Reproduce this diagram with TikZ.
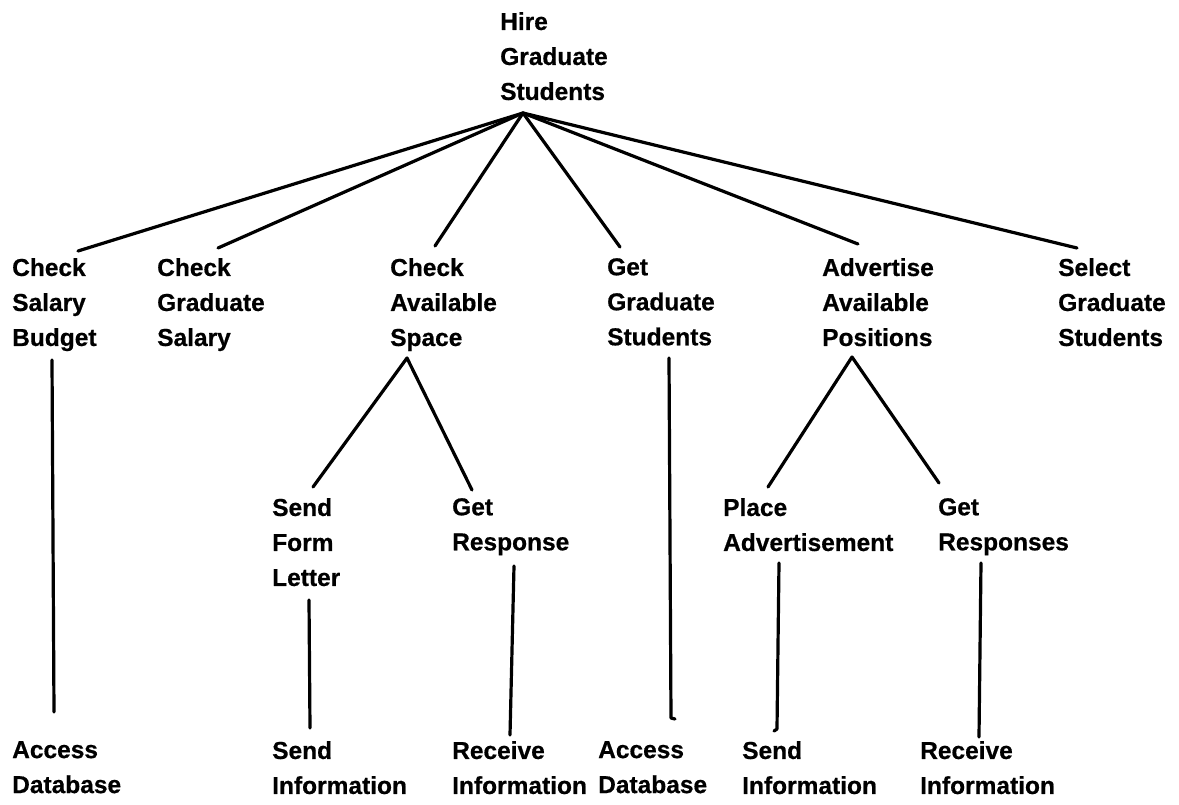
\documentclass[tikz,border=0pt]{standalone}
\usepackage{fontspec}
\setmainfont{Liberation Sans}[BoldFeatures={FakeBold=0.6}]
\begin{document}
\begin{tikzpicture}[x=1pt,y=-1pt,
  task/.style={anchor=north west,inner sep=0pt,align=left,
    font=\fontsize{24.5}{35}\selectfont\bfseries},
  link/.style={line width=3.2pt,line cap=round,line join=round}]
\useasboundingbox (0,0) rectangle (1179,804);
% root
\node[task] (hire) at (500,12) {Hire\\Graduate\\Students};
\coordinate (hireJ) at (523,113);
% second level
\node[task] (csb) at (12,258) {Check\\Salary\\Budget};
\node[task] (cgs) at (157,258) {Check\\Graduate\\Salary};
\node[task] (cas) at (390,258) {Check\\Available\\Space};
\node[task] (ggs) at (607,258) {Get\\Graduate\\Students};
\node[task] (aap) at (822,258) {Advertise\\Available\\Positions};
\node[task] (sgs) at (1058,258) {Select\\Graduate\\Students};
% third level
\node[task] (sfl) at (272,498) {Send\\Form\\Letter};
\node[task] (gr)  at (452,498) {Get\\Response};
\node[task] (pa)  at (723,498) {Place\\Advertisement};
\node[task] (grs) at (938,498) {Get\\Responses};
% leaves
\node[task] (ad1) at (12,741) {Access\\Database};
\node[task] (si1) at (272,741) {Send\\Information};
\node[task] (ri1) at (452,741) {Receive\\Information};
\node[task] (ad2) at (598,741) {Access\\Database};
\node[task] (si2) at (742,741) {Send\\Information};
\node[task] (ri2) at (920,741) {Receive\\Information};
% connector ends
\coordinate (csbT) at (78,251);
\coordinate (cgsT) at (218,248);
\coordinate (casT) at (435,246);
\coordinate (ggsT) at (620,247);
\coordinate (aapT) at (858,244);
\coordinate (sgsT) at (1077,248);
\coordinate (casB) at (407,358);
\coordinate (sflT) at (313,487);
\coordinate (grT)  at (472,490);
\coordinate (aapB) at (852,357);
\coordinate (paT)  at (768,487);
\coordinate (grsT) at (939,483);
\coordinate (csbB) at (52,360);
\coordinate (ad1T) at (54,712);
\coordinate (sflB) at (309,600);
\coordinate (si1T) at (310,728);
\coordinate (grB)  at (514,566);
\coordinate (ri1T) at (510,735);
\coordinate (ggsB) at (669,358);
\coordinate (ad2T) at (671,718);
\coordinate (ad2H) at (675,719);
\coordinate (paB)  at (779,563);
\coordinate (si2T) at (777,729);
\coordinate (si2H) at (774,731);
\coordinate (grsB) at (981,563);
\coordinate (ri2T) at (979,737);
% edges
\foreach \e in {csbT,cgsT,casT,ggsT,aapT,sgsT}
  \draw[link] (hireJ) -- (\e);
\draw[link] (sflT) -- (casB) -- (grT);
\draw[link] (paT) -- (aapB) -- (grsT);
\draw[link] (csbB) -- (ad1T);
\draw[link] (sflB) -- (si1T);
\draw[link] (grB) -- (ri1T);
\draw[link] (ggsB) -- (ad2T) -- (ad2H);
\draw[link] (paB) -- (si2T) -- (si2H);
\draw[link] (grsB) -- (ri2T);
\end{tikzpicture}
\end{document}
